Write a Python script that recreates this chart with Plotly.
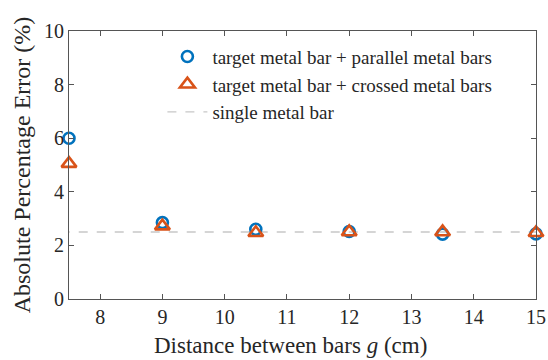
import plotly.graph_objects as go

# Spacing between bars (cm)
gap_cm = [7.5, 9, 10.5, 12, 13.5, 15]
# Absolute percentage error (%) for each configuration
err_parallel = [6.0, 2.85, 2.6, 2.52, 2.42, 2.43]
err_crossed = [5.05, 2.72, 2.47, 2.5, 2.5, 2.47]
# Reference error for the isolated bar (%)
err_single = 2.5

x_ticks = [8, 9, 10, 11, 12, 13, 14, 15]
y_ticks = [0, 2, 4, 6, 8, 10]

BLUE = "#0072BD"
ORANGE = "#D95319"
AXIS = "#555555"
TEXT = "#262626"
FONT = "Liberation Serif"

fig = go.Figure()

fig.add_trace(go.Scatter(
    x=[gap_cm[0] - 1, gap_cm[-1] + 1], y=[err_single, err_single],
    mode="lines", name="single metal bar", legendrank=3,
    line=dict(color="#c8c8c8", width=1.3, dash="dash"),
))
fig.add_trace(go.Scatter(
    x=gap_cm, y=err_parallel, mode="markers",
    name="target metal bar + parallel metal bars", legendrank=1,
    marker=dict(symbol="circle-open", size=11, color=BLUE,
                line=dict(color=BLUE, width=2.6)),
    cliponaxis=False,
))
fig.add_trace(go.Scatter(
    x=gap_cm, y=err_crossed, mode="markers",
    name="target metal bar + crossed metal bars", legendrank=2,
    marker=dict(symbol="triangle-up-open", size=13, color=ORANGE,
                line=dict(color=ORANGE, width=2.6)),
    cliponaxis=False,
))

axis_common = dict(
    showgrid=False, zeroline=False, showline=True, mirror="ticks",
    linecolor=AXIS, linewidth=1, ticks="inside", ticklen=5,
    tickcolor=AXIS, tickwidth=1, automargin=False,
    tickfont=dict(family=FONT, size=20, color=TEXT),
)

fig.update_layout(
    width=548, height=360,
    margin=dict(l=69, r=12, t=31, b=61, autoexpand=False),
    paper_bgcolor="white", plot_bgcolor="white",
    font=dict(family=FONT, color=TEXT),
    xaxis=dict(range=[7.5, 15], tickvals=x_ticks, **axis_common),
    yaxis=dict(range=[0, 10], tickvals=y_ticks, **axis_common),
    legend=dict(
        x=0.2, y=0.975, xanchor="left", yanchor="top",
        bgcolor="rgba(255,255,255,0)", borderwidth=0,
        font=dict(family=FONT, size=19, color=TEXT),
        tracegroupgap=0, itemwidth=40,
    ),
)

# Axis titles
fig.add_annotation(
    text="Distance between bars <i>g</i> (cm)",
    xref="paper", yref="paper", x=0.475, y=-0.172,
    xanchor="center", yanchor="middle", showarrow=False,
    font=dict(family=FONT, size=23, color=TEXT),
)
fig.add_annotation(
    text="Absolute Percentage Error (%)",
    xref="paper", yref="paper", x=-0.1, y=0.5, textangle=-90,
    xanchor="center", yanchor="middle", showarrow=False,
    font=dict(family=FONT, size=24, color=TEXT),
)

fig.write_html("out.html")
